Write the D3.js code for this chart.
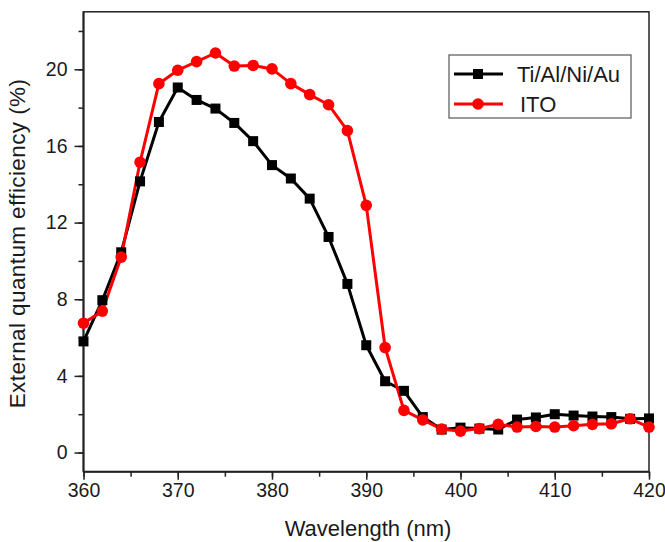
<!DOCTYPE html>
<html>
<head>
<meta charset="utf-8">
<script src="https://cdn.jsdelivr.net/npm/d3@7"></script>
<style>
  html, body { margin: 0; padding: 0; background: #fff; }
  svg { display: block; font-family: "Liberation Sans", Arial, sans-serif; }
</style>
</head>
<body>
<svg id="chart" width="665" height="542"></svg>
<script>
const wavelengths = [360,362,364,366,368,370,372,374,376,378,380,382,384,386,388,390,392,394,396,398,400,402,404,406,408,410,412,414,416,418,420];
const tiAlNiAu = [5.8,7.95,10.45,14.15,17.25,19.05,18.4,17.95,17.2,16.25,15.0,14.3,13.25,11.25,8.8,5.6,3.72,3.22,1.85,1.2,1.3,1.25,1.2,1.72,1.83,2.0,1.93,1.88,1.85,1.76,1.78];
const ito = [6.75,7.38,10.2,15.15,19.25,19.95,20.4,20.85,20.17,20.2,20.02,19.25,18.68,18.15,16.8,12.9,5.48,2.2,1.7,1.22,1.12,1.25,1.47,1.33,1.36,1.33,1.4,1.47,1.5,1.76,1.33];
const xTicks = [360,370,380,390,400,410,420];
const yTicks = [0,4,8,12,16,20];
const seriesNames = ["Ti/Al/Ni/Au", "ITO"];
const seriesColors = ["#000000", "#ff0000"];

const svg = d3.select("#chart");
const L = 83.5, R = 649, T = 11.8, B = 471.7;
const x = d3.scaleLinear().domain([360, 420]).range([L, R]);
const y = d3.scaleLinear().domain([-1, 23]).range([B, T]);
const textColor = "#1a1a1a";

// frame
svg.append("rect").attr("x", L).attr("y", T).attr("width", R - L).attr("height", B - T)
  .attr("fill", "none").attr("stroke", "#222").attr("stroke-width", 1.5);

// x axis
const xAxis = svg.append("g").attr("transform", `translate(0,${B})`);
xAxis.call(d3.axisBottom(x).tickValues(d3.range(360, 421, 5)).tickSize(5).tickFormat(""))
  .call(g => g.select(".domain").remove());
xAxis.append("g").call(d3.axisBottom(x).tickValues(xTicks).tickSize(8).tickPadding(3).tickFormat(d3.format("d")))
  .call(g => g.select(".domain").remove())
  .call(g => g.selectAll("text").attr("font-size", 19.5).attr("fill", textColor).attr("font-family", "Liberation Sans, Arial, sans-serif"));
xAxis.selectAll("line").attr("stroke", "#222").attr("stroke-width", 1.5);
xAxis.append("line").attr("x1", L).attr("x2", R).attr("stroke", "#222").attr("stroke-width", 2);

// y axis
const yAxis = svg.append("g").attr("transform", `translate(${L},0)`);
yAxis.call(d3.axisLeft(y).tickValues(d3.range(0, 23, 2)).tickSize(5).tickFormat(""))
  .call(g => g.select(".domain").remove());
yAxis.append("g").call(d3.axisLeft(y).tickValues(yTicks).tickSize(9).tickPadding(7).tickFormat(d3.format("d")))
  .call(g => g.select(".domain").remove())
  .call(g => g.selectAll("text").attr("font-size", 19.5).attr("fill", textColor).attr("font-family", "Liberation Sans, Arial, sans-serif"));
yAxis.selectAll("line").attr("stroke", "#222").attr("stroke-width", 1.5);
yAxis.append("line").attr("y1", T).attr("y2", B).attr("stroke", "#222").attr("stroke-width", 2);

// axis titles
svg.append("text").attr("x", 368).attr("y", 536).attr("text-anchor", "middle")
  .attr("font-size", 22).attr("fill", textColor).text("Wavelength (nm)");
svg.append("text").attr("transform", `translate(25,243.5) rotate(-90)`).attr("text-anchor", "middle")
  .attr("font-size", 22.5).attr("letter-spacing", 0.4).attr("fill", textColor).text("External quantum efficiency (%)");

// series
const allSeries = [tiAlNiAu, ito];
const line = d3.line().x((d, i) => x(wavelengths[i])).y(d => y(d));
const plot = svg.append("g");
allSeries.forEach((vals, s) => {
  plot.append("path").datum(vals).attr("d", line).attr("fill", "none")
    .attr("stroke", seriesColors[s]).attr("stroke-width", 3).attr("stroke-linejoin", "round");
});
allSeries.forEach((vals, s) => {
  const g = plot.append("g").attr("fill", seriesColors[s]);
  if (s === 0) {
    g.selectAll("rect").data(vals).join("rect")
      .attr("x", (d, i) => x(wavelengths[i]) - 5).attr("y", d => y(d) - 5)
      .attr("width", 10).attr("height", 10);
  } else {
    g.selectAll("circle").data(vals).join("circle")
      .attr("cx", (d, i) => x(wavelengths[i])).attr("cy", d => y(d)).attr("r", 5.8);
  }
});

// legend
const lg = svg.append("g");
lg.append("rect").attr("x", 449).attr("y", 55).attr("width", 182).attr("height", 63)
  .attr("fill", "#fff").attr("stroke", "#555").attr("stroke-width", 1.2);
seriesNames.forEach((name, s) => {
  const cy = 74 + s * 30;
  lg.append("line").attr("x1", 454).attr("x2", 503).attr("y1", cy).attr("y2", cy)
    .attr("stroke", seriesColors[s]).attr("stroke-width", 3);
  if (s === 0) {
    lg.append("rect").attr("x", 473).attr("y", cy - 5).attr("width", 10).attr("height", 10).attr("fill", seriesColors[s]);
  } else {
    lg.append("circle").attr("cx", 478).attr("cy", cy).attr("r", 5.8).attr("fill", seriesColors[s]);
  }
  lg.append("text").attr("x", s === 0 ? 517 : 520).attr("y", cy + 8).attr("font-size", 22)
    .attr("fill", textColor).text(name);
});
</script>
</body>
</html>
